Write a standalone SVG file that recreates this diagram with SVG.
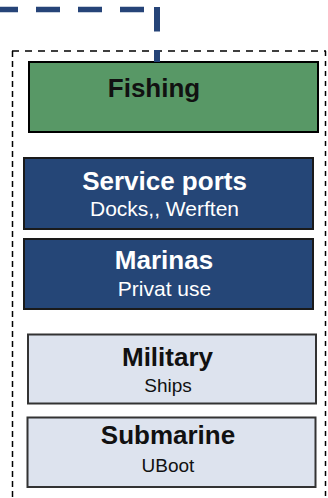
<svg xmlns="http://www.w3.org/2000/svg" width="328" height="498" viewBox="0 0 328 498">
<style>
.t{font-family:"Liberation Sans",Arial,sans-serif;text-anchor:middle}
.b{font-weight:bold;font-size:26px}
.s{font-size:21px}
.s2{font-size:19px}
.w{fill:#ffffff}
.k{fill:#111111}
.frame{stroke:#000;stroke-width:1.5;fill:none}
.conn{stroke:#264478;fill:none}
</style>
<rect width="328" height="498" fill="#ffffff"/>
<g id="frame">
<line class="frame" x1="12" y1="51" x2="326" y2="51" stroke-dasharray="7 6"/>
<line class="frame" x1="12.5" y1="51" x2="12.5" y2="498" stroke-dasharray="6 4"/>
<line class="frame" x1="325.5" y1="51" x2="325.5" y2="498" stroke-dasharray="5 5" stroke-width="2.5"/>
</g>
<g id="fishing">
<rect x="29" y="62" width="289" height="70" fill="#589866" stroke="#000" stroke-width="2"/>
<text class="t b k" x="154" y="96.5">Fishing</text>
</g>
<g id="service-ports">
<rect x="24" y="158" width="289" height="71" fill="#254677" stroke="#1a1a1a" stroke-width="2"/>
<text class="t b w" x="164.5" y="190">Service ports</text>
<text class="t s w" x="164.5" y="216">Docks,, Werften</text>
</g>
<g id="marinas">
<rect x="24" y="239" width="289" height="70" fill="#254677" stroke="#1a1a1a" stroke-width="2"/>
<text class="t b w" x="164" y="269">Marinas</text>
<text class="t s w" x="164.5" y="296">Privat use</text>
</g>
<g id="military">
<rect x="28" y="334.5" width="288" height="69" fill="#dde3ee" stroke="#333333" stroke-width="2"/>
<text class="t b k" x="167.5" y="366">Military</text>
<text class="t s2 k" x="168" y="391.5">Ships</text>
</g>
<g id="submarine">
<rect x="27.5" y="417.5" width="288" height="69.5" fill="#dde3ee" stroke="#333333" stroke-width="2"/>
<text class="t b k" x="168" y="443.5">Submarine</text>
<text class="t s2 k" x="168" y="471.5">UBoot</text>
</g>
<g id="connectors">
<path class="conn" d="M0 9.5 H154" stroke-width="5.6" stroke-dasharray="24 18" stroke-dashoffset="6"/>
<path class="conn" d="M157 7 V62" stroke-width="6" stroke-dasharray="24.5 18.5"/>
</g>
</svg>
